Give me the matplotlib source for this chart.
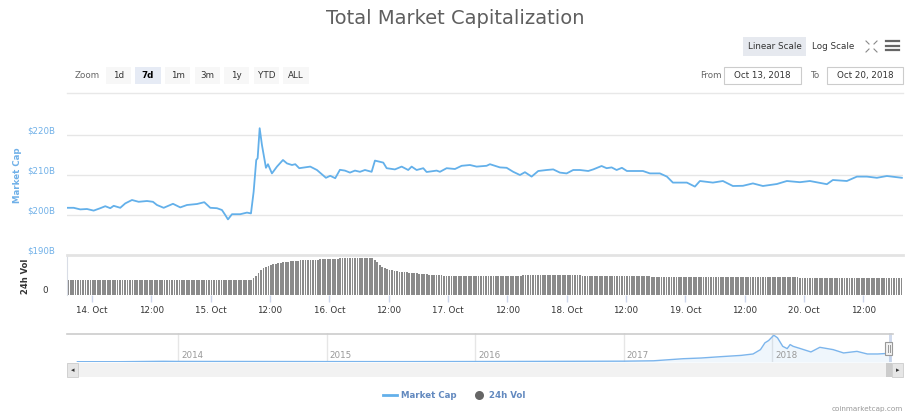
import numpy as np
import matplotlib
matplotlib.use("Agg")
from matplotlib import pyplot as plt
from matplotlib.patches import Rectangle
from matplotlib.lines import Line2D

plt.rcParams['font.family'] = 'DejaVu Sans'

# hours since 14 Oct 2018 00:00, market cap in $B
cap_hours = [-5.05, -3.70, -2.37, -1.01, 0.34, 1.68, 2.69, 3.70, 4.39, 5.72, 6.73, 8.09,
             9.44, 11.12, 12.33, 13.14, 14.50, 16.38, 17.85, 19.21, 21.23, 22.71, 23.92,
             25.27, 26.28, 26.95, 27.50, 28.31, 29.98, 31.34, 32.15, 32.69, 33.22, 33.50,
             33.91, 34.37, 35.18, 35.59, 36.39, 37.41, 38.62, 39.43, 40.44, 41.11, 41.91,
             44.14, 45.49, 47.31, 48.18, 49.19, 50.14, 51.15, 52.17, 53.18, 54.19, 55.20,
             56.55, 57.22, 58.90, 59.59, 61.26, 62.62, 63.95, 64.64, 65.65, 66.99, 67.67,
             69.70, 70.36, 71.72, 73.40, 74.75, 76.43, 77.78, 79.80, 80.47, 82.49, 83.85,
             85.18, 86.54, 87.55, 88.90, 90.24, 91.94, 93.27, 94.62, 95.98, 97.31, 98.67,
             100.35, 101.36, 103.05, 104.07, 105.08, 106.09, 107.16, 108.17, 111.41,
             112.82, 114.84, 116.26, 117.47, 120.30, 121.92, 122.93, 125.56, 127.58,
             129.60, 131.63, 133.65, 135.67, 138.50, 140.52, 143.15, 145.17, 148.61,
             149.82, 152.65, 154.68, 156.70, 158.72, 160.74, 163.77]
cap_values = [201.8, 201.8, 201.4, 201.5, 201.1, 201.7, 202.2, 201.7, 202.3, 201.8, 202.9,
              203.75, 203.3, 203.5, 203.3, 202.5, 201.8, 202.8, 201.9, 202.5, 202.75,
              203.2, 201.8, 201.7, 201.25, 200.0, 198.9, 200.2, 200.2, 200.6, 200.4,
              205.8, 213.75, 214.2, 221.7, 217.5, 211.8, 212.7, 210.4, 212.1, 213.75,
              212.9, 212.5, 212.7, 211.7, 212.1, 211.25, 209.3, 209.8, 209.2, 211.3,
              211.1, 210.6, 211.1, 210.8, 211.25, 210.8, 213.6, 213.1, 211.7, 211.4,
              212.1, 211.25, 212.1, 211.25, 211.7, 210.75, 211.1, 210.8, 211.7, 211.5,
              212.3, 212.5, 212.1, 212.3, 212.7, 211.9, 211.8, 210.8, 210.0, 210.7,
              209.6, 211.0, 211.25, 211.4, 210.6, 210.4, 211.25, 211.25, 211.0, 211.4,
              212.25, 211.7, 211.9, 211.25, 211.8, 211.0, 211.0, 210.4, 210.4, 209.6,
              208.1, 208.1, 207.1, 208.5, 208.1, 208.5, 207.25, 207.3, 207.9, 207.25,
              207.75, 208.5, 208.2, 208.5, 207.7, 208.75, 208.5, 209.6, 209.6, 209.3,
              209.75, 209.3]

# 24h volume, half-hour bars as (level in $B, number of bars)
vol_start = -5.0
vol_step = 0.5
vol_levels = [11.25, 11.5, 12.5, 14.5, 16.5, 18.5, 20.5, 21.3, 22.0, 22.5,
              23.2, 23.6, 24.0, 24.3, 24.6, 24.8, 25.0,
              25.3, 26.0, 26.6, 27.2, 27.5,
              26.5, 24.5, 22.5, 21.0, 20.0, 19.3,
              18.7, 18.2, 17.6, 17.0, 16.4, 15.7, 15.0, 14.25, 15.0, 14.0, 13.3, 12.5]
vol_counts = [74, 1, 1, 1, 1, 1, 1, 1, 1, 1,
              1, 1, 1, 1, 1, 1, 1,
              4, 4, 4, 8, 14,
              1, 1, 1, 1, 1, 1,
              2, 2, 2, 2, 4, 4, 6, 32, 24, 28, 60, 42]

# navigator: whole history (fractional year, market cap $B)
nav_years = [2013.32, 2013.6, 2013.9, 2014.0, 2014.5, 2015.0, 2015.5, 2016.0, 2016.5,
             2017.0, 2017.2, 2017.40, 2017.52, 2017.65, 2017.79, 2017.87, 2017.92,
             2017.95, 2017.975, 2018.01, 2018.035, 2018.07, 2018.10, 2018.12, 2018.14,
             2018.19, 2018.26, 2018.32, 2018.41, 2018.48, 2018.57, 2018.64, 2018.71,
             2018.78, 2018.80]
nav_values = [1.5, 1.2, 14, 10, 8, 5, 4, 7, 12, 18, 30, 95, 117, 158, 199, 243, 379,
              591, 664, 831, 749, 483, 411, 537, 483, 411, 307, 452, 379, 275, 325,
              243, 243, 262, 262]

tick_hours = [0, 12, 24, 36, 48, 60, 72, 84, 96, 108, 120, 132, 144, 156]
tick_labels = ["14. Oct", "12:00", "15. Oct", "12:00", "16. Oct", "12:00", "17. Oct",
               "12:00", "18. Oct", "12:00", "19. Oct", "12:00", "20. Oct", "12:00"]
nav_year_ticks = [2014, 2015, 2016, 2017, 2018]

W, H = 917, 416
LINE = '#63b0ea'
fig = plt.figure(figsize=(W / 100, H / 100), dpi=100)


def box(l, t, r, b):
    return [l / W, 1 - b / H, (r - l) / W, (b - t) / H]


def px(x, y):
    return x / W, 1 - y / H


def rect(l, t, r, b, **kw):
    fig.patches.append(Rectangle(px(l, b), (r - l) / W, (b - t) / H,
                                 transform=fig.transFigure, **kw))


def seg(x0, y0, x1, y1, **kw):
    fig.lines.append(Line2D([x0 / W, x1 / W], [1 - y0 / H, 1 - y1 / H],
                            transform=fig.transFigure, **kw))


# title and toolbar
fig.text(*px(455, 18), "Total Market Capitalization", ha='center', va='center',
         fontsize=14, color='#5f5f5f')
fig.text(*px(75, 75), "Zoom", ha='left', va='center', fontsize=6.3, color='#666666')
buttons = ["1d", "7d", "1m", "3m", "1y", "YTD", "ALL"]
bx = [(106, 131), (135, 161), (165, 190), (195, 220), (224, 249), (254, 279), (283, 309)]
for name, (l, r) in zip(buttons, bx):
    sel = name == "7d"
    rect(l, 67, r, 84, facecolor='#e6ebf5' if sel else '#f7f7f7', edgecolor='none')
    fig.text(*px((l + r) / 2, 75.5), name, ha='center', va='center', fontsize=6.3,
             color='#000000' if sel else '#333333', fontweight='bold' if sel else 'normal')

rect(743, 37, 806, 56, facecolor='#e6e9ef', edgecolor='none')
fig.text(*px(774.5, 46.5), "Linear Scale", ha='center', va='center', fontsize=6.3, color='#333333')
fig.text(*px(833, 46.5), "Log Scale", ha='center', va='center', fontsize=6.3, color='#333333')
# fullscreen icon
for cx, cy, dx, dy in [(866, 41, 1, 1), (877, 41, -1, 1), (866, 52, 1, -1), (877, 52, -1, -1)]:
    seg(cx, cy, cx + 3 * dx, cy + 3 * dy, color='#888888', lw=0.8)
# menu icon
for yy in (41, 45.5, 50):
    seg(886, yy, 899, yy, color='#666666', lw=1.6)

fig.text(*px(711, 75), "From", ha='center', va='center', fontsize=6.3, color='#666666')
rect(724, 67, 801, 84, facecolor='white', edgecolor='#cccccc', lw=0.8)
fig.text(*px(762.5, 75.5), "Oct 13, 2018", ha='center', va='center', fontsize=6.3, color='#333333')
fig.text(*px(815, 75), "To", ha='center', va='center', fontsize=6.3, color='#666666')
rect(827, 67, 903, 84, facecolor='white', edgecolor='#cccccc', lw=0.8)
fig.text(*px(865, 75.5), "Oct 20, 2018", ha='center', va='center', fontsize=6.3, color='#333333')
seg(67, 93, 903, 93, color='#e8e8e8', lw=1)

# main pane
xlim = (-5.05, 164.0)
ax = fig.add_axes(box(67, 125, 903, 255))
ax.set_xlim(*xlim)
ax.set_ylim(190, 222.5)
for v in (200, 210, 220):
    ax.axhline(v, color='#e6e6e6', lw=1, zorder=0)
ax.plot(cap_hours, cap_values, color=LINE, lw=1.3, solid_joinstyle='round')
ax.axis('off')
for v in (190, 200, 210, 220):
    ax.annotate("$%dB" % v, xy=(0, v), xycoords=('axes fraction', 'data'),
                xytext=(-12, 4), textcoords='offset pixels', ha='right', va='center',
                fontsize=6.2, color='#6fb0e8')
fig.text(*px(17, 175), "Market Cap", rotation=90, ha='center', va='center',
         fontsize=6.2, fontweight='bold', color='#6fb0e8')

# volume pane
vol = np.repeat(vol_levels, vol_counts)
vol_t = vol_start + vol_step * np.arange(len(vol))
axv = fig.add_axes(box(67, 255, 903, 295))
axv.set_xlim(*xlim)
axv.set_ylim(0, 30)
axv.bar(vol_t, vol, width=vol_step * 0.72, color='#8a8a8a', edgecolor='none', align='edge')
for s in ('right', 'bottom'):
    axv.spines[s].set_visible(False)
axv.spines['top'].set_color('#e3e3e3')
axv.spines['top'].set_linewidth(2)
axv.spines['left'].set_color('#d9dde6')
axv.spines['left'].set_linewidth(0.8)
axv.set_yticks([0])
axv.set_yticklabels(["0"])
axv.tick_params(axis='y', length=0, pad=14, labelsize=6.3, labelcolor='#333333')
for lab in axv.get_yticklabels():
    lab.set_va('bottom')
axv.set_xticks(tick_hours)
axv.set_xticklabels(tick_labels)
axv.tick_params(axis='x', length=5, width=1, color='#ccd6eb', pad=3,
                labelsize=6.3, labelcolor='#333333')
fig.text(*px(26, 276), "24h Vol", rotation=90, ha='center', va='center',
         fontsize=6.0, fontweight='bold', color='#333333')

# navigator
axn = fig.add_axes(box(67, 333, 903, 362))
axn.set_xlim(2013.25, 2018.88)
axn.set_ylim(-8, 900)
axn.fill_between(nav_years, nav_values, -8, color='#7cb5ec', alpha=0.12, lw=0)
axn.plot(nav_years, nav_values, color='#7cb5ec', lw=1)
for yr in nav_year_ticks:
    axn.axvline(yr, color='#e6e6e6', lw=1, zorder=0)
    axn.annotate(str(yr), xy=(yr, 0), xycoords=('data', 'axes fraction'),
                 xytext=(3, 2), textcoords='offset pixels', ha='left', va='bottom',
                 fontsize=6.3, color='#999999')
axn.axis('off')
seg(67, 333.5, 893, 333.5, color='#cccccc', lw=1.2)
rect(888.5, 333, 892, 362, facecolor='#6685c2', alpha=0.3, edgecolor='none')
rect(885, 342, 892, 355, facecolor='#f2f2f2', edgecolor='#999999', lw=0.8)
seg(887.5, 345, 887.5, 352, color='#999999', lw=0.7)
seg(889.5, 345, 889.5, 352, color='#999999', lw=0.7)

# scrollbar
rect(67, 363, 903, 377, facecolor='#f2f2f2', edgecolor='none')
rect(67, 363, 78, 377, facecolor='#e6e6e6', edgecolor='#cccccc', lw=0.6)
rect(886, 363, 892, 377, facecolor='#cccccc', edgecolor='none')
rect(892, 363, 903, 377, facecolor='#e6e6e6', edgecolor='#cccccc', lw=0.6)
fig.text(*px(72.5, 370), "\u25c2", ha='center', va='center', fontsize=5, color='#333333')
fig.text(*px(897.5, 370), "\u25b8", ha='center', va='center', fontsize=5, color='#333333')

# legend
seg(383, 395, 397, 395, color=LINE, lw=2)
fig.text(*px(401, 395), "Market Cap", ha='left', va='center', fontsize=6.2,
         fontweight='bold', color='#6289bf')
fig.lines.append(Line2D([478.5 / W], [1 - 395 / H], transform=fig.transFigure, marker='o',
                        markersize=6.5, markerfacecolor='#666666', markeredgecolor='none',
                        linestyle='none'))
fig.text(*px(489, 395), "24h Vol", ha='left', va='center', fontsize=6.2,
         fontweight='bold', color='#6289bf')
fig.text(*px(903, 409), "coinmarketcap.com", ha='right', va='center', fontsize=5.2,
         color='#999999')

fig.savefig("out.png", dpi=100)
